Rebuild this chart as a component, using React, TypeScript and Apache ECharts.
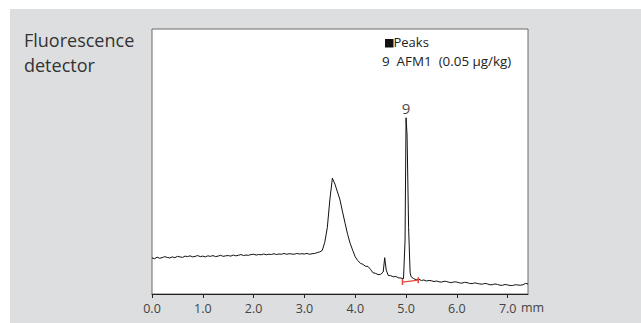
import React, { useEffect, useRef } from "react";
import * as echarts from "echarts";

// Retention time (min) and detector response (relative units)
const times = [
  0.0, 0.05, 0.1, 0.15, 0.2, 0.25, 0.3, 0.35, 0.4, 0.45, 0.5, 0.55, 0.6, 0.65, 0.7, 0.75, 0.8, 0.85, 0.9, 0.95,
  1.0, 1.05, 1.1, 1.15, 1.2, 1.25, 1.3, 1.35, 1.4, 1.45, 1.5, 1.55, 1.6, 1.65, 1.7, 1.75, 1.8, 1.85, 1.9, 1.95,
  2.0, 2.05, 2.1, 2.15, 2.2, 2.25, 2.3, 2.35, 2.4, 2.45, 2.5, 2.55, 2.6, 2.65, 2.7, 2.75, 2.8, 2.85, 2.9, 2.95,
  3.0, 3.05, 3.1, 3.15, 3.2, 3.25, 3.3, 3.35, 3.4, 3.45, 3.5, 3.55,
  3.6, 3.65, 3.7, 3.75, 3.8, 3.85, 3.9, 3.95, 4.0, 4.05, 4.1, 4.15, 4.2, 4.25, 4.3, 4.35, 4.4, 4.45, 4.5, 4.55,
  4.58, 4.61, 4.65, 4.7, 4.75, 4.8, 4.85, 4.9, 4.95, 4.98, 5.0, 5.02, 5.05, 5.08, 5.1, 5.15, 5.2, 5.25, 5.3, 5.35,
  5.4, 5.45, 5.5, 5.55, 5.6, 5.65, 5.7, 5.75, 5.8, 5.85, 5.9, 5.95, 6.0, 6.05, 6.1, 6.15, 6.2, 6.25, 6.3, 6.35,
  6.4, 6.45, 6.5, 6.55, 6.6, 6.65, 6.7, 6.75, 6.8, 6.85, 6.9, 6.95, 7.0, 7.05, 7.1, 7.15, 7.2, 7.25, 7.3, 7.35, 7.4,
];
const signal = [
  13.6, 13.3, 13.9, 13.5, 13.7, 14.1, 13.8, 13.6, 14.0, 13.7, 14.2, 14.0, 13.8, 14.3, 14.1, 14.4, 14.0, 14.2, 14.5, 14.1,
  14.3, 14.0, 14.4, 14.2, 14.5, 14.1, 14.3, 14.6, 14.2, 14.4, 14.5, 14.3, 14.7, 14.4, 14.6, 14.9, 14.5, 14.7, 14.6, 14.9,
  15.0, 14.7, 14.9, 14.8, 15.1, 14.8, 15.0, 14.9, 15.2, 14.9, 15.1, 15.0, 15.3, 15.0, 15.2, 15.1, 15.0, 15.3, 15.1, 15.2,
  15.1, 15.3, 15.0, 15.2, 15.3, 15.6, 15.9, 16.4, 19.5, 25.0, 35.5, 43.7,
  41.5, 38.5, 35.5, 31.0, 26.7, 22.5, 19.1, 16.5, 14.0, 12.6, 11.6, 11.2, 10.5, 10.4, 9.3, 8.0, 7.8, 7.3, 7.4, 8.3,
  13.7, 9.0, 7.0, 6.9, 6.5, 6.6, 6.1, 6.0, 5.8, 20.0, 66.5, 60.0, 25.0, 8.0, 6.5, 5.8, 5.4, 5.6, 5.1, 5.3,
  4.9, 5.1, 5.0, 4.7, 4.9, 4.6, 4.5, 4.8, 4.7, 4.4, 4.3, 4.6, 4.5, 4.2, 4.1, 4.4, 4.3, 4.0, 3.9, 4.2,
  4.0, 3.8, 3.7, 4.0, 3.8, 3.5, 3.5, 3.8, 3.6, 3.3, 3.3, 3.6, 3.4, 3.2, 3.2, 3.5, 3.4, 3.3, 3.5, 4.0, 3.8,
];

// Peak annotation
const peakNumber = "9";
const peakApex: [number, number] = [5.0, 66.5];
const integrationBaseline: [number, number][] = [
  [4.93, 4.5],
  [5.24, 5.2],
];

const xTicks = [0, 1, 2, 3, 4, 5, 6, 7];
const legendTitle = "Peaks";
const legendItems = ["9  AFM1  (0.05 µg/kg)"];
const detectorLabel = ["Fluorescence", "detector"];
const unitLabel = "mm";

const FONT = "'Open Sans', 'Noto Sans', sans-serif";

export default function App() {
  const ref = useRef<HTMLDivElement>(null);

  useEffect(() => {
    if (!ref.current) return;
    const chart = echarts.init(ref.current, null, { renderer: "svg" });
    const lineData = times.map((t, i) => [t, signal[i]]);

    chart.setOption({
      animation: false,
      grid: {
        left: 152,
        top: 29,
        right: 113,
        bottom: 29,
        show: true,
        backgroundColor: "#ffffff",
        borderColor: "#6a6a6a",
        borderWidth: 1,
      },
      xAxis: {
        type: "value",
        min: 0,
        max: 7.4,
        interval: 1,
        splitLine: { show: false },
        axisLine: { show: true, lineStyle: { color: "#222", width: 1 } },
        axisTick: {
          show: true,
          length: 4,
          customValues: xTicks,
          lineStyle: { color: "#222" },
        },
        axisLabel: {
          customValues: xTicks,
          formatter: (v: number) => v.toFixed(1),
          color: "#444",
          fontSize: 12.5,
          fontFamily: FONT,
          margin: 8,
        },
      },
      yAxis: {
        type: "value",
        min: 0,
        max: 100,
        show: false,
        splitLine: { show: false },
      },
      series: [
        {
          type: "line",
          data: lineData,
          showSymbol: false,
          symbol: "none",
          lineStyle: { color: "#111", width: 1 },
          z: 3,
        },
        {
          type: "line",
          data: integrationBaseline,
          symbol: "rect",
          symbolSize: [1.5, 6],
          showSymbol: true,
          itemStyle: { color: "#e8473d" },
          lineStyle: { color: "#e8473d", width: 1.2 },
          z: 4,
        },
        {
          type: "scatter",
          data: [peakApex],
          symbolSize: 0,
          label: {
            show: true,
            position: "top",
            distance: 2,
            formatter: () => peakNumber,
            color: "#111",
            fontSize: 15,
            fontFamily: FONT,
          },
          z: 5,
        },
      ],
      graphic: [
        {
          type: "text",
          left: 24,
          top: 27,
          style: {
            text: detectorLabel.join("\n"),
            font: `18px ${FONT}`,
            fill: "#333",
            lineHeight: 25,
          },
        },
        {
          type: "rect",
          shape: { x: 385, y: 39, width: 8.5, height: 8.5 },
          style: { fill: "#111" },
        },
        {
          type: "text",
          left: 393.5,
          top: 35,
          style: {
            text: legendTitle,
            font: `13px ${FONT}`,
            fill: "#222",
          },
        },
        {
          type: "text",
          left: 382,
          top: 54,
          style: {
            text: legendItems.join("\n"),
            font: `13.4px ${FONT}`,
            fill: "#222",
          },
        },
        {
          type: "text",
          left: 521,
          top: 301,
          style: {
            text: unitLabel,
            font: `12.5px ${FONT}`,
            fill: "#444",
          },
        },
      ],
    });

    return () => chart.dispose();
  }, []);

  return (
    <div style={{ position: "fixed", left: 0, top: 0, width: 641, height: 323, background: "#ffffff" }}>
      <div
        style={{
          position: "absolute",
          left: 10,
          top: 9,
          width: 631,
          height: 314,
          background: "#dddedf",
        }}
      />
      <div ref={ref} style={{ position: "absolute", left: 0, top: 0, width: 641, height: 323 }} />
    </div>
  );
}
